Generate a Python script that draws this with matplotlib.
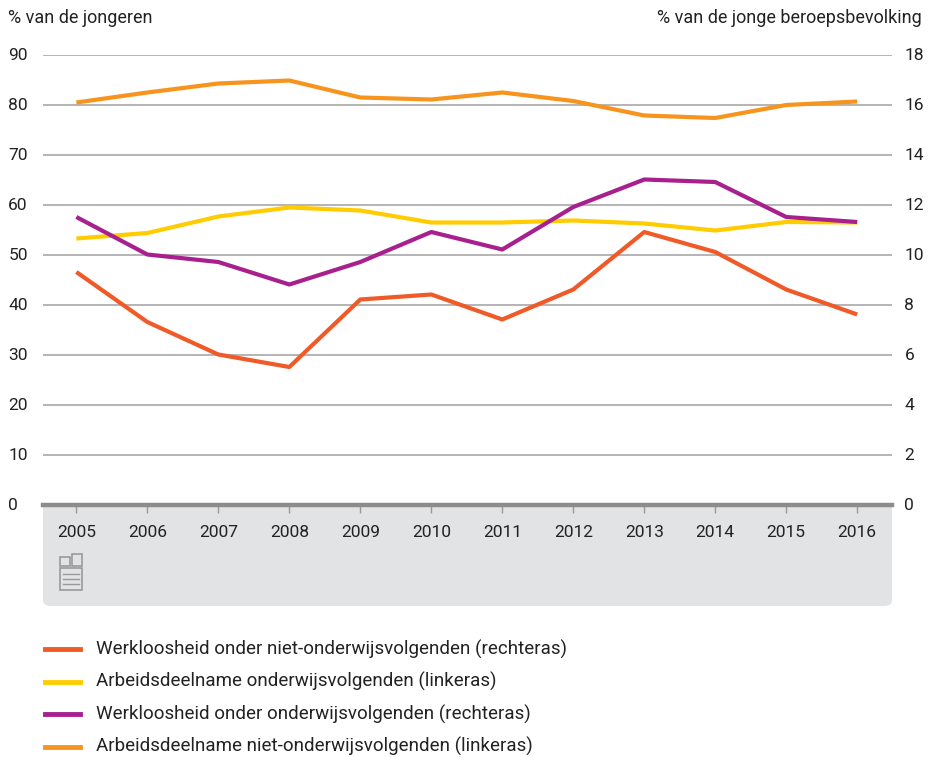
import matplotlib
matplotlib.use("Agg")
import matplotlib.pyplot as plt
from matplotlib.patches import FancyBboxPatch, Rectangle
from matplotlib import font_manager

years = ["2005", "2006", "2007", "2008", "2009", "2010", "2011", "2012", "2013", "2014", "2015", "2016"]
werkl_niet = [9.3, 7.3, 6.0, 5.5, 8.2, 8.4, 7.4, 8.6, 10.9, 10.1, 8.6, 7.6]
arb_onderw = [53.2, 54.3, 57.6, 59.4, 58.8, 56.4, 56.4, 56.8, 56.2, 54.8, 56.5, 56.4]
werkl_onderw = [11.5, 10.0, 9.7, 8.8, 9.7, 10.9, 10.2, 11.9, 13.0, 12.9, 11.5, 11.3]
arb_niet = [80.4, 82.4, 84.2, 84.8, 81.4, 81.0, 82.4, 80.7, 77.8, 77.3, 79.9, 80.6]
left_ticks = [0, 10, 20, 30, 40, 50, 60, 70, 80, 90]
right_ticks = [0, 2, 4, 6, 8, 10, 12, 14, 16, 18]
labels = ["Werkloosheid onder niet-onderwijsvolgenden (rechteras)",
          "Arbeidsdeelname onderwijsvolgenden (linkeras)",
          "Werkloosheid onder onderwijsvolgenden (rechteras)",
          "Arbeidsdeelname niet-onderwijsvolgenden (linkeras)"]

C_RED = "#F05A28"
C_YEL = "#FFCC00"
C_PUR = "#A8208E"
C_ORA = "#F7941D"

avail = {f.name for f in font_manager.fontManager.ttflist}
fam = "Liberation Sans Narrow" if "Liberation Sans Narrow" in avail else "Roboto"
plt.rcParams["font.family"] = [fam, "DejaVu Sans"]
TXT = "#222222"

W, H = 929, 757
fig = plt.figure(figsize=(W / 100, H / 100), dpi=100)

def fx(px):
    return px / W

def fy(py):
    return 1 - py / H

ax_l, ax_r, ax_t, ax_b = 43, 892, 54.5, 504.5
ax = fig.add_axes([fx(ax_l), fy(ax_b), fx(ax_r - ax_l), (ax_b - ax_t) / H])
ax.set_facecolor("white")
ax.set_zorder(1)

# grey band below axis
band = FancyBboxPatch((fx(ax_l), fy(606)), fx(ax_r - ax_l), (606 - 495) / H,
                      boxstyle="round,pad=0,rounding_size=0.008",
                      transform=fig.transFigure, facecolor="#E2E3E5",
                      edgecolor="none", zorder=0)
fig.patches.append(band)

x = list(range(len(years)))
ax.set_xlim(-0.47, 11.49)
ax.set_ylim(0, 90)
ax.set_yticks(left_ticks)
ax.set_yticklabels([str(v) for v in left_ticks])
ax.yaxis.grid(True, color="#a0a0a0", lw=1.1)
ax.set_axisbelow(True)
for s in ax.spines.values():
    s.set_visible(False)
ax.tick_params(axis="y", length=0, labelsize=12.5, labelcolor=TXT, pad=25)
for lab in ax.get_yticklabels():
    lab.set_horizontalalignment("left")
ax.set_xticks(x)
ax.set_xticklabels(years)
ax.tick_params(axis="x", length=6, width=1, color="#9a9a9a", labelsize=12.5,
               labelcolor=TXT, pad=9)
ax.axhline(0, color="#8c8c8c", lw=3.2, zorder=5, clip_on=False)

ax2 = ax.twinx()
ax2.set_ylim(0, 18)
ax2.set_yticks(right_ticks)
ax2.set_yticklabels([str(v) for v in right_ticks])
for s in ax2.spines.values():
    s.set_visible(False)
ax2.tick_params(axis="y", length=0, labelsize=12.5, labelcolor=TXT, pad=9)
for lab in ax2.get_yticklabels():
    lab.set_horizontalalignment("left")

lw = 3.0
h1, = ax2.plot(x, werkl_niet, color=C_RED, lw=lw, solid_capstyle="butt", zorder=3)
h2, = ax.plot(x, arb_onderw, color=C_YEL, lw=lw, solid_capstyle="butt", zorder=3)
h3, = ax2.plot(x, werkl_onderw, color=C_PUR, lw=lw, solid_capstyle="butt", zorder=3)
h4, = ax.plot(x, arb_niet, color=C_ORA, lw=lw, solid_capstyle="butt", zorder=3)

# axis titles
fig.text(fx(8), fy(18), "% van de jongeren", ha="left", va="center", fontsize=13, color=TXT)
fig.text(fx(922), fy(18), "% van de jonge beroepsbevolking", ha="right", va="center",
         fontsize=13, color=TXT)

# simple CBS logo
lc = "#9a9a9a"
for (x0, y0, w, h) in [(60, 557, 10, 9), (72, 554, 10, 12), (60, 568, 22, 22)]:
    fig.patches.append(Rectangle((fx(x0), fy(y0 + h)), fx(w), h / H, transform=fig.transFigure,
                                 facecolor="none", edgecolor=lc, lw=1.2, zorder=2))
for yy in [574, 579, 584]:
    fig.lines.append(plt.Line2D([fx(63), fx(79)], [fy(yy), fy(yy)], transform=fig.transFigure,
                                color=lc, lw=1.0, zorder=2))

# legend
for i, (h, lab) in enumerate(zip([h1, h2, h3, h4], labels)):
    yy = 649 + i * 32.5
    fig.lines.append(plt.Line2D([fx(45), fx(80)], [fy(yy), fy(yy)], transform=fig.transFigure,
                                color=h.get_color(), lw=3.5))
    fig.text(fx(96), fy(yy), lab, ha="left", va="center", fontsize=13.5, color=TXT)

fig.savefig("out.png", dpi=100)
